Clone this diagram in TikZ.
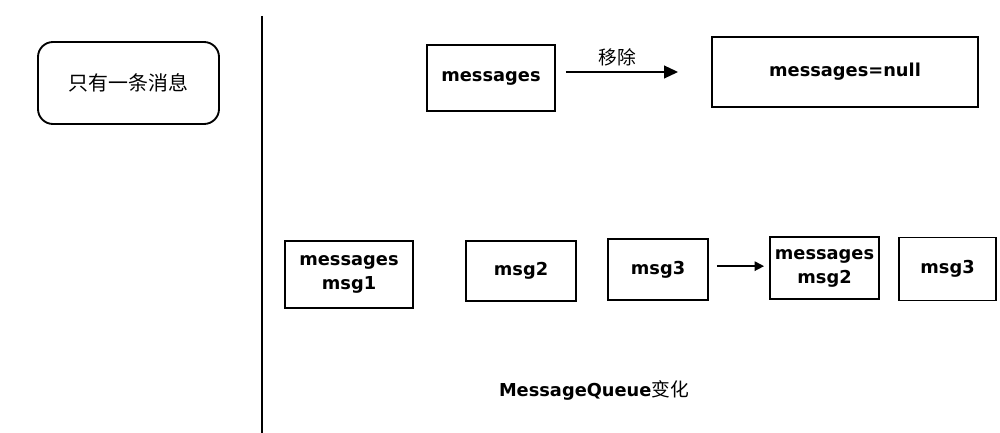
\documentclass[tikz,border=0pt]{standalone}
\usepackage{fontspec}
\setmainfont{DejaVu Sans}
\newfontfamily\cjk{Noto Sans CJK SC}
\usetikzlibrary{arrows.meta}

\begin{document}
\begin{tikzpicture}[
  x=0.03cm,
  y=-0.03cm,
  every node/.style={font=\fontsize{15.2}{20.5}\selectfont\bfseries},
  qbox/.style={draw, line width=1.6pt, align=center, inner sep=0pt},
  notebox/.style={draw, line width=1.6pt, rounded corners=0.45cm, inner sep=0pt},
  bigarrow/.style={line width=1.3pt, -{Triangle[length=12pt,width=11pt]}},
  smallarrow/.style={line width=1.3pt, -{Triangle[length=8pt,width=8pt]}}
]
  \useasboundingbox (0,0) rectangle (1000,433);

  % left note and divider
  \node[notebox, minimum width=5.43cm, minimum height=2.46cm,
    font=\cjk\fontsize{17}{20}\selectfont] (note) at (128.5,83) {只有一条消息};
  \coordinate (divtop) at (262,16);
  \coordinate (divbot) at (262,433);
  \draw[line width=1.6pt] (divtop) -- (divbot);

  % top row
  \node[qbox, minimum width=3.84cm, minimum height=1.98cm] (msgA) at (491,78) {messages};
  \node[qbox, minimum width=7.98cm, minimum height=2.1cm] (nullbox) at (845,72) {messages=null};
  \draw[bigarrow] ([xshift=0.3cm]msgA.east |- nullbox.west) -- ([xshift=-0.99cm]nullbox.west)
    node[midway, above=0.05cm, xshift=-0.15cm, font=\cjk\fontsize{16}{18}\selectfont] (rm) {移除};

  % bottom row
  \node[qbox, minimum width=3.84cm, minimum height=2.01cm] (m1) at (349,274.5) {messages\\msg1};
  \node[qbox, minimum width=3.3cm, minimum height=1.8cm] (m2) at (521,271) {msg2};
  \node[qbox, minimum width=3cm, minimum height=1.83cm] (m3) at (658,269.5) {msg3};
  \node[qbox, minimum width=3.27cm, minimum height=1.86cm] (m4) at (824.5,268) {messages\\msg2};
  \node[qbox, minimum width=2.91cm, minimum height=1.89cm] (m5) at (947.5,269) {msg3};
  \draw[smallarrow] ([xshift=0.24cm,yshift=0.1cm]m3.east) -- ([xshift=-0.15cm,yshift=0.1cm]m4.west |- m3.east);

  \node (cap) at (594,390) {MessageQueue{\cjk\fontsize{16}{18}\selectfont\mdseries 变化}};
\end{tikzpicture}
\end{document}
